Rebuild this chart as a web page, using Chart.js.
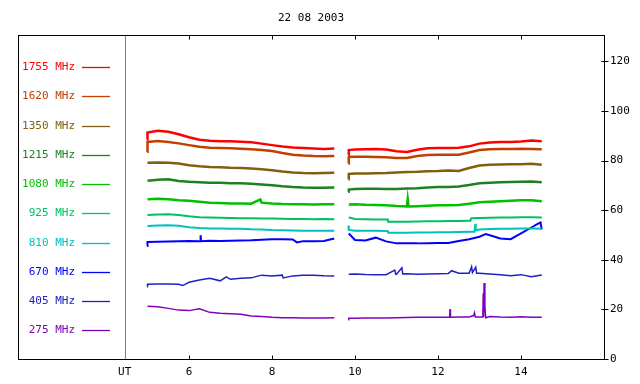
<!DOCTYPE html>
<html>
<head>
<meta charset="utf-8">
<script src="https://cdn.jsdelivr.net/npm/chart.js@4/dist/chart.umd.min.js"></script>
<style>
  html, body { margin: 0; padding: 0; background: #fff; }
  #wrap { width: 640px; height: 384px; }
</style>
</head>
<body>
<div id="wrap"><canvas id="chart" width="640" height="384"></canvas></div>
<script>
// time grid (UT hours) for the two recording segments
const t1 = [5.0, 5.25, 5.5, 5.75, 6.0, 6.25, 6.5, 6.75, 7.0, 7.25, 7.5, 7.75, 8.0, 8.25, 8.5, 8.75, 9.0, 9.25, 9.5];
const t2 = [9.85, 10.0, 10.25, 10.5, 10.75, 11.0, 11.25, 11.5, 11.75, 12.0, 12.25, 12.5, 12.75, 13.0, 13.25, 13.5, 13.75, 14.0, 14.25, 14.5];

const labels = ['1755 MHz', '1620 MHz', '1350 MHz', '1215 MHz', '1080 MHz', '925 MHz', '810 MHz', '670 MHz', '405 MHz', '275 MHz'];
const colors = ['#ff0000', '#c04000', '#806010', '#208020', '#00c000', '#00c060', '#00c0c0', '#0000ff', '#2020c0', '#8000c0'];

const xTicks = [6, 8, 10, 12, 14];
const yTicks = [0, 20, 40, 60, 80, 100, 120];

// flux values, segment a (t1) and b (t2), plus single spikes / steps as [t, v]
const f1755a = [91.3, 92.0, 91.6, 90.6, 89.4, 88.4, 88.0, 87.8, 87.8, 87.6, 87.4, 86.8, 86.2, 85.6, 85.2, 85.0, 84.8, 84.6, 84.8];
const f1755b = [84.2, 84.4, 84.5, 84.6, 84.4, 83.7, 83.4, 84.3, 84.9, 85.0, 85.0, 85.1, 85.7, 86.8, 87.3, 87.5, 87.5, 87.7, 88.1, 87.8];
const f1755x = [[4.99, 88.5], [9.84, 82.3]];

const f1620a = [87.5, 87.9, 87.5, 86.9, 86.2, 85.5, 85.1, 85.0, 84.9, 84.7, 84.5, 84.2, 83.8, 83.0, 82.3, 82.0, 81.8, 81.7, 81.8];
const f1620b = [81.4, 81.5, 81.5, 81.4, 81.3, 81.0, 81.0, 81.8, 82.2, 82.3, 82.3, 82.3, 83.2, 84.2, 84.5, 84.6, 84.6, 84.7, 84.6, 84.5];
const f1620x = [[4.99, 83.5], [9.84, 78.8]];

const f1350a = [79.1, 79.2, 79.1, 78.8, 78.1, 77.7, 77.4, 77.3, 77.1, 77.0, 76.8, 76.5, 76.1, 75.6, 75.2, 75.0, 74.9, 75.0, 75.1];
const f1350b = [74.6, 74.8, 74.8, 74.9, 75.0, 75.2, 75.4, 75.5, 75.7, 75.8, 76.0, 75.8, 77.0, 78.0, 78.3, 78.4, 78.5, 78.5, 78.7, 78.3];
const f1350x = [[9.84, 72.4]];

const f1215a = [71.8, 72.2, 72.4, 71.7, 71.4, 71.2, 71.0, 71.0, 70.8, 70.8, 70.6, 70.3, 70.0, 69.6, 69.3, 69.1, 69.0, 69.0, 69.1];
const f1215b = [68.3, 68.5, 68.6, 68.6, 68.5, 68.5, 68.7, 68.8, 69.1, 69.3, 69.3, 69.5, 70.1, 70.8, 71.0, 71.2, 71.3, 71.4, 71.5, 71.2];
const f1215x = [[9.84, 67.4]];

const f1080a = [64.4, 64.6, 64.4, 64.0, 63.8, 63.4, 63.0, 62.9, 62.7, 62.7, 62.6, 63.0, 62.7, 62.5, 62.4, 62.4, 62.3, 62.4, 62.4];
const f1080b = [62.3, 62.4, 62.2, 62.1, 62.0, 61.7, 61.5, 61.6, 61.8, 62.0, 62.0, 62.1, 62.6, 63.2, 63.4, 63.6, 63.8, 64.0, 64.0, 63.6];
const f1080x = [[7.72, 64.3], [11.27, 64.5], [11.29, 61.5]];

const f925a = [58.0, 58.2, 58.3, 58.0, 57.5, 57.1, 57.0, 56.9, 56.8, 56.7, 56.7, 56.6, 56.6, 56.5, 56.4, 56.4, 56.3, 56.4, 56.3];
const f925b = [57.0, 56.4, 56.3, 56.2, 56.2, 55.3, 55.3, 55.4, 55.5, 55.5, 55.6, 55.6, 55.7, 56.8, 56.9, 57.0, 57.0, 57.1, 57.1, 57.0];
const f925x = [[10.79, 56.2], [10.8, 55.3], [12.78, 55.7], [12.8, 56.7]];

const f810a = [53.6, 53.8, 53.9, 53.7, 53.1, 52.8, 52.6, 52.6, 52.5, 52.5, 52.3, 52.2, 52.0, 51.9, 51.8, 51.7, 51.7, 51.7, 51.7];
const f810b = [52.0, 51.7, 51.7, 51.7, 51.6, 50.9, 50.9, 51.0, 51.0, 51.1, 51.1, 51.2, 51.3, 52.2, 52.4, 52.5, 52.5, 52.6, 52.6, 52.5];
const f810x = [[9.84, 53.8], [10.79, 51.6], [10.8, 50.9], [12.88, 51.3], [12.9, 54.5], [12.91, 51.8]];

const f670a = [47.2, 47.3, 47.4, 47.5, 47.6, 47.5, 47.7, 47.6, 47.7, 47.8, 47.9, 48.1, 48.3, 48.3, 48.2, 47.5, 47.5, 47.6, 48.6];
const f670b = [50.6, 48.0, 47.8, 48.9, 47.4, 46.6, 46.6, 46.6, 46.7, 46.8, 46.8, 47.6, 48.3, 49.3, 49.9, 48.6, 48.3, 50.6, 53.0, 52.2];
const f670x = [[4.99, 45.5], [6.27, 47.5], [6.28, 49.9], [6.29, 47.5], [8.6, 47.0], [13.15, 50.4], [14.4, 54.5], [14.47, 55.0]];

const f405a = [30.1, 30.2, 30.2, 30.1, 30.9, 31.8, 32.5, 31.5, 32.1, 32.5, 32.7, 33.8, 33.5, 33.8, 33.5, 33.8, 33.8, 33.6, 33.5];
const f405b = [34.2, 34.3, 34.1, 34.0, 34.0, 34.2, 34.4, 34.2, 34.3, 34.4, 34.5, 34.6, 34.6, 34.6, 34.3, 34.0, 33.6, 34.0, 33.2, 33.9];
const f405x = [[4.99, 29.1], [5.85, 29.6], [6.9, 33.1], [8.27, 32.7], [10.96, 35.8], [10.98, 34.2], [11.13, 36.8], [11.15, 34.3],
  [12.33, 35.6], [12.81, 37.2], [12.83, 34.8], [12.91, 37.0], [12.93, 34.6]];

const f275a = [21.3, 21.1, 20.4, 19.7, 19.5, 20.2, 18.8, 18.4, 18.2, 18.0, 17.3, 17.1, 16.8, 16.6, 16.6, 16.5, 16.5, 16.5, 16.6];
const f275b = [16.4, 16.4, 16.5, 16.5, 16.5, 16.6, 16.7, 16.8, 16.8, 16.8, 16.8, 16.9, 16.9, 16.9, 17.1, 16.9, 16.8, 17.0, 16.8, 16.8];
const f275x = [[9.84, 15.8], [12.28, 16.8], [12.29, 20.1], [12.3, 16.8], [12.86, 17.5], [12.88, 18.6], [12.9, 16.9],
  [13.08, 16.9], [13.09, 26.5], [13.1, 16.9], [13.11, 30.6], [13.13, 21.0], [13.15, 16.6]];

const series = [
  [f1755a, f1755b, f1755x], [f1620a, f1620b, f1620x], [f1350a, f1350b, f1350x], [f1215a, f1215b, f1215x],
  [f1080a, f1080b, f1080x], [f925a, f925b, f925x], [f810a, f810b, f810x], [f670a, f670b, f670x],
  [f405a, f405b, f405x], [f275a, f275b, f275x]
];

const UT_LINE = 4.45;
const MONO = '"DejaVu Sans Mono", "Liberation Mono", monospace';

function build(a, b, extra) {
  const pts = t1.map((t, i) => ({x: t, y: a[i]}))
    .concat(t2.map((t, i) => ({x: t, y: b[i]})))
    .concat(extra.map(p => ({x: p[0], y: p[1]})));
  pts.push({x: 9.7, y: null}); // data gap
  pts.sort((p, q) => p.x - q.x);
  return pts;
}

const datasets = series.map((s, i) => ({
  label: labels[i],
  data: build(s[0], s[1], s[2]),
  borderColor: colors[i],
  borderWidth: i < 5 ? 2.5 : (i < 8 ? 2 : 1.5),
  pointRadius: 0,
  tension: 0,
  spanGaps: false
}));

// box, UT line, inward tick marks and the frequency key
const frame = {
  id: 'frame',
  beforeDatasetsDraw(chart) {
    const {ctx, chartArea: a, scales} = chart;
    ctx.save();
    ctx.strokeStyle = '#808080';
    ctx.lineWidth = 1;
    const ux = Math.round(scales.x.getPixelForValue(UT_LINE)) + 0.5;
    ctx.beginPath();
    ctx.moveTo(ux, a.top);
    ctx.lineTo(ux, a.bottom);
    ctx.stroke();
    ctx.restore();
  },
  afterDraw(chart) {
    const {ctx, chartArea: a, scales} = chart;
    ctx.save();
    ctx.strokeStyle = '#000';
    ctx.lineWidth = 1;
    const L = Math.round(a.left) + 0.5, R = Math.round(a.right) + 0.5;
    const T = Math.round(a.top) + 0.5, B = Math.round(a.bottom) + 0.5;
    ctx.strokeRect(L, T, R - L, B - T);
    ctx.beginPath();
    xTicks.forEach(v => {
      const px = Math.round(scales.x.getPixelForValue(v)) + 0.5;
      ctx.moveTo(px, B); ctx.lineTo(px, B - 4);
      ctx.moveTo(px, T); ctx.lineTo(px, T + 4);
    });
    yTicks.forEach(v => {
      const py = Math.round(scales.y.getPixelForValue(v)) + 0.5;
      ctx.moveTo(R - 3, py); ctx.lineTo(R + 4, py);
    });
    ctx.stroke();

    ctx.font = '11px ' + MONO;
    ctx.textAlign = 'right';
    ctx.textBaseline = 'middle';
    labels.forEach((lab, i) => {
      const y = Math.round(67 + i * 29.26) + 0.5;
      ctx.fillStyle = colors[i];
      ctx.fillText(lab, 75, y);
      ctx.strokeStyle = colors[i];
      ctx.lineWidth = 1.3;
      ctx.beginPath();
      ctx.moveTo(82, y); ctx.lineTo(110, y);
      ctx.stroke();
    });
    ctx.restore();
  }
};

Chart.defaults.font.family = MONO;
Chart.defaults.font.size = 11;
Chart.defaults.color = '#000';

new Chart(document.getElementById('chart'), {
  type: 'line',
  data: {datasets},
  plugins: [frame],
  options: {
    responsive: false,
    animation: false,
    layout: {padding: {left: 18, right: 0, top: 0, bottom: 0}},
    plugins: {
      legend: {display: false},
      tooltip: {enabled: false},
      title: {
        display: true,
        text: '22 08 2003',
        fullSize: false,
        color: '#000',
        font: {family: MONO, size: 11, weight: 'normal'},
        padding: {top: 12, bottom: 10}
      }
    },
    scales: {
      x: {
        type: 'linear',
        min: 1.88,
        max: 16.0,
        grid: {display: false, drawTicks: false},
        border: {display: false},
        afterBuildTicks: s => { s.ticks = [UT_LINE].concat(xTicks).map(v => ({value: v})); },
        afterFit: s => { s.height = 25; },
        ticks: {
          autoSkip: false,
          maxRotation: 0,
          padding: 7,
          callback: v => v === UT_LINE ? 'UT' : String(v)
        }
      },
      y: {
        type: 'linear',
        position: 'right',
        min: 0,
        max: 130.5,
        grid: {display: false, drawTicks: false},
        border: {display: false},
        afterBuildTicks: s => { s.ticks = yTicks.map(v => ({value: v})); },
        afterFit: s => { s.width = 36; },
        ticks: {padding: 6}
      }
    }
  }
});
</script>
</body>
</html>
